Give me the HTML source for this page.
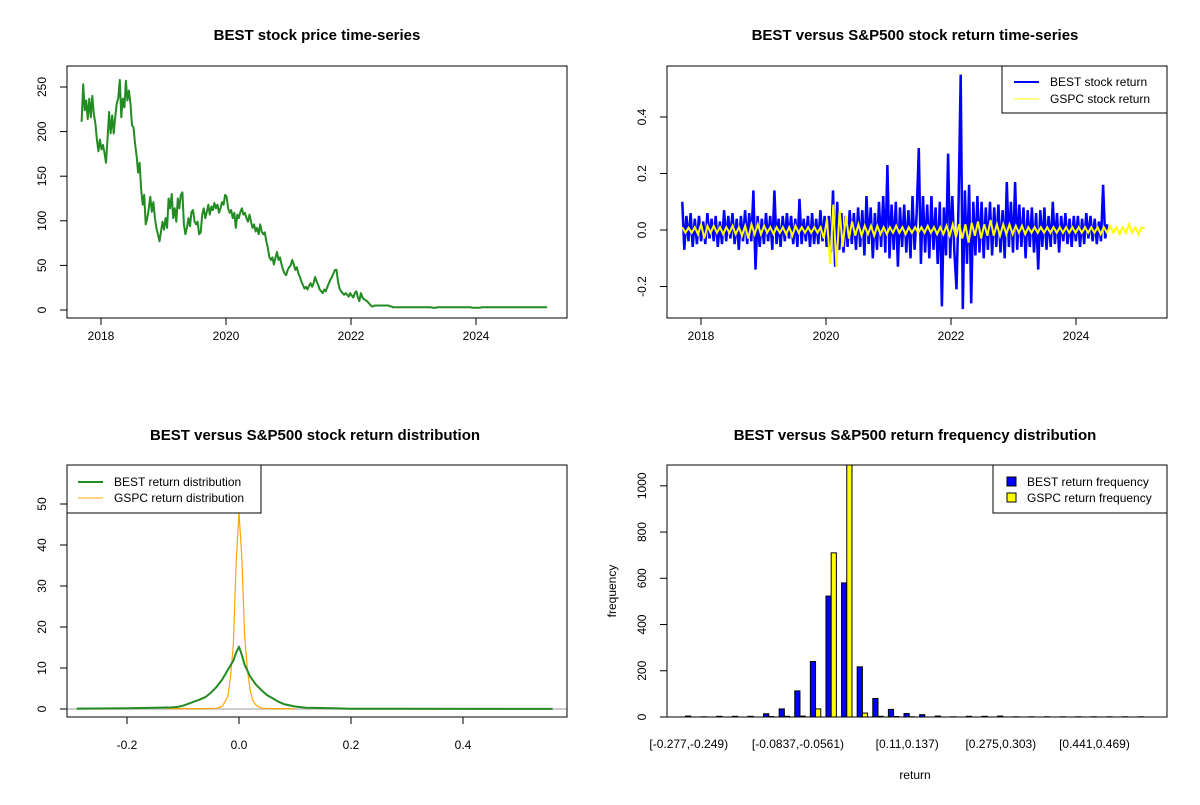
<!DOCTYPE html>
<html><head><meta charset="utf-8"><style>
html,body{margin:0;padding:0;background:#fff;}
svg text{font-family:"Liberation Sans",Arial,sans-serif;fill:#000;}
.t{font-weight:bold;font-size:15px;}
.a{font-size:12px;}
</style></head><body>
<svg id="s" width="1200" height="800" viewBox="0 0 1200 800" xmlns="http://www.w3.org/2000/svg">
<rect x="0" y="0" width="1200" height="800" fill="#fff"/>
</svg>
<script>
// ---------- data ----------
const priceStart = 2017.69;
const priceStep = 0.02442;
const prices = [211,253,224,235,214,237,216,240,220,209,191,178,191,180,185,176,165,193,222,198,218,198,216,231,238,258,216,237,227,257,235,246,231,207,205,187,173,154,165,136,118,129,96,103,114,127,110,121,103,92,85,77,88,99,90,103,92,125,114,130,103,114,99,125,114,129,132,96,85,92,103,94,110,112,99,96,99,85,87,107,114,103,110,118,107,116,112,120,114,118,109,114,121,118,129,127,114,109,112,103,109,92,107,103,110,114,107,109,103,99,107,99,92,96,88,92,85,96,88,85,87,77,70,59,56,59,51,59,65,56,59,51,45,41,39,45,48,50,56,51,45,48,41,37,32,28,24,26,23,27,30,26,30,37,32,28,23,21,19,23,21,26,30,34,37,41,45,45,32,24,21,19,17,19,17,15,19,16,14,19,21,14,10,19,14,12,11,10,8,6,4,4,5,5,5,5,5,5,5,5,5,5,4,4,3,3,3,3,3,3,3,3,3,3,3,3,3,3,3,3,3,3,3,3,3,3,3,3,3,3,2.5,2.5,2.5,3,3,3,3,3,3,3,3,3,3,3,3,3,3,3,3,3,3,3,3,3,3,3,2.5,2.5,2.5,2.5,2.5,2.5,3,3,3,3,3,3,3,3,3,3,3,3,3,3,3,3,3,3,3,3,3,3,3,3,3,3,3,3,3,3,3,3,3,3,3,3,3,3,3,3,3,3,3,3];
const yearTicks = [2018,2020,2022,2024];
const priceTicks = [0,50,100,150,200,250];

const bestStart = 2017.7, bestEnd = 2024.5;
const bestReturns = [0.10,-0.07,0.05,-0.04,0.06,-0.06,0.04,-0.05,0.05,
-0.04,0.03,-0.05,0.06,-0.03,0.04,-0.04,0.05,-0.06,0.03,-0.05,0.07,-0.04,0.05,-0.03,
0.06,-0.05,0.04,-0.07,0.05,-0.04,0.07,-0.05,0.06,-0.04,0.14,-0.14,0.05,-0.06,0.04,
-0.05,0.06,-0.04,0.05,-0.07,0.14,-0.05,0.04,-0.06,0.05,-0.04,0.06,-0.03,0.05,-0.05,
0.04,-0.06,0.11,-0.05,0.04,-0.04,0.05,-0.06,0.06,-0.05,0.04,-0.05,0.07,-0.04,0.05,
-0.06,0.05,-0.08,0.14,-0.13,0.10,-0.07,0.06,-0.08,0.05,-0.06,0.07,-0.05,0.06,-0.07,
0.08,-0.06,0.07,-0.09,0.12,-0.05,0.08,-0.10,0.06,-0.07,0.10,-0.06,0.12,-0.08,0.23,
-0.10,0.09,-0.07,0.10,-0.13,0.08,-0.06,0.09,-0.08,0.07,-0.10,0.12,-0.07,0.06,0.29,
-0.12,0.12,-0.08,0.09,-0.10,0.12,-0.07,0.08,-0.12,0.10,-0.27,0.08,-0.09,0.27,-0.10,
0.12,-0.08,-0.21,0.10,0.55,-0.28,0.14,-0.12,0.16,-0.26,0.10,-0.09,0.12,-0.08,0.10,
-0.10,0.08,-0.07,0.10,-0.09,0.08,-0.06,0.09,-0.08,0.07,-0.10,0.17,-0.06,0.10,-0.08,
0.17,-0.07,0.09,-0.06,0.08,-0.10,0.07,-0.06,0.08,-0.08,0.06,-0.14,0.07,-0.06,0.08,
-0.07,0.05,-0.06,0.10,-0.05,0.06,-0.08,0.05,-0.04,0.06,-0.05,0.04,-0.06,0.05,-0.04,
0.05,-0.06,0.04,-0.05,0.06,-0.03,0.05,-0.04,0.04,-0.05,0.03,-0.04,0.16,-0.03,0.02];
const gspcStart = 2017.7, gspcEnd = 2025.1;
const gspcReturns = [0.01,-0.01,0.008,-0.01,0.01,
-0.015,0.02,-0.03,0.015,-0.01,0.015,-0.01,0.01,-0.015,0.01,-0.01,0.015,-0.015,0.01,-0.02,0.015,-0.03,0.02,-0.015,0.02,
-0.015,0.015,-0.01,0.01,-0.015,0.01,-0.01,0.01,-0.015,0.01,-0.02,0.015,-0.01,0.01,-0.01,0.01,-0.01,0.01,-0.01,0.01,
-0.03,0.04,-0.12,0.09,-0.13,0.07,-0.06,0.05,-0.03,0.03,-0.02,0.02,-0.02,0.015,-0.015,0.015,-0.02,0.015,-0.015,0.01,
-0.015,0.01,-0.01,0.015,-0.01,0.01,-0.015,0.01,-0.01,0.01,-0.01,0.01,-0.01,0.015,-0.01,0.01,-0.015,0.01,-0.015,0.015,
-0.02,0.02,-0.025,0.02,-0.03,0.02,-0.045,0.025,-0.02,0.03,-0.03,0.02,-0.02,0.035,-0.02,0.02,-0.02,0.02,-0.015,0.02,
-0.015,0.015,-0.01,0.015,-0.015,0.01,-0.01,0.01,-0.01,0.01,-0.01,0.01,-0.01,0.01,-0.01,0.01,-0.01,0.01,-0.01,0.01,
-0.01,0.01,-0.01,0.01,-0.01,0.01,-0.01,0.01,-0.015,0.01,-0.01,0.015,-0.01,0.01,-0.015,0.01,-0.01,0.02,-0.01,0.01,
-0.015,0.01,0.005];
const returnTicks = [-0.2,0.0,0.2,0.4];

const bestDensX = [-0.29,-0.2,-0.15,-0.12,-0.11,-0.10,-0.09,-0.08,-0.07,-0.06,-0.05,-0.04,-0.03,-0.02,-0.01,-0.005,0,0.005,0.01,0.02,0.03,0.04,0.05,0.06,0.07,0.08,0.10,0.12,0.17,0.2,0.3,0.56];
const bestDensY = [0.1,0.2,0.3,0.4,0.5,0.8,1.3,1.8,2.3,2.9,4.0,5.4,7.2,9.5,11.8,13.8,15.2,13.2,10.8,7.9,6.0,4.6,3.4,2.6,1.8,1.2,0.6,0.3,0.2,0.05,0.05,0.02];
const gspcDensX = [-0.13,-0.06,-0.04,-0.03,-0.02,-0.015,-0.01,-0.005,0,0.005,0.01,0.015,0.02,0.025,0.03,0.04,0.06,0.09,0.1];
const gspcDensY = [0.1,0.1,0.2,0.6,3,8,16,36,48,37,18,9.5,4.5,2,1,0.2,0.1,0.1,0];
const densXTicks = [-0.2,0.0,0.2,0.4];
const densYTicks = [0,10,20,30,40,50];

const bestFreq = [4,1,3,3,3,14,35,113,240,523,580,217,80,33,15,10,4,1,3,3,4,1,1,1,1,1,1,1,1,1];
const gspcFreq = [0,0,0,0,0,2,3,4,35,710,1090,17,3,2,1,0,0,0,0,0,0,0,0,0,0,0,0,0,0,0];
const binLabels = ["[-0.277,-0.249)","[-0.0837,-0.0561)","[0.11,0.137)","[0.275,0.303)","[0.441,0.469)"];
const binLabelIdx = [0,7,14,20,26];
const freqTicks = [0,200,400,600,800,1000];

// ---------- helpers ----------
const S = document.getElementById('s');
const NS = 'http://www.w3.org/2000/svg';
function mk(tag, attrs, parent){
  const e = document.createElementNS(NS, tag);
  for (const k in attrs) e.setAttribute(k, attrs[k]);
  (parent || S).appendChild(e);
  return e;
}
function txt(str, x, y, cls, anchor, rot, parent){
  const e = mk('text', {x:x, y:y, class:cls, 'text-anchor':anchor||'middle'}, parent);
  if (rot) e.setAttribute('transform', 'rotate(-90 '+x+' '+y+')');
  e.textContent = str;
  return e;
}
function lin(d0,d1,r0,r1){ return v => r0 + (v-d0)*(r1-r0)/(d1-d0); }
function box(x0,y0,x1,y1,name){
  const r = mk('rect',{x:x0,y:y0,width:x1-x0,height:y1-y0,fill:'none',stroke:'#000','stroke-width':1});
  
  
}
function xTicks(vals, sx, yAxis, fmt, labY, grp){
  const g = mk('g',{});
  
  
  const lo = sx(vals[0]), hi = sx(vals[vals.length-1]);
  mk('line',{x1:lo,y1:yAxis,x2:hi,y2:yAxis,stroke:'#000'},g);
  vals.forEach(v=>{
    mk('line',{x1:sx(v),y1:yAxis,x2:sx(v),y2:yAxis+7,stroke:'#000'},g);
    const t = txt(fmt(v), sx(v), labY, 'a', 'middle', false, g);
    
    
  });
}
function yTicks(vals, sy, xAxis, fmt, labX, grp){
  const g = mk('g',{});
  
  
  const lo = sy(vals[0]), hi = sy(vals[vals.length-1]);
  mk('line',{x1:xAxis,y1:lo,x2:xAxis,y2:hi,stroke:'#000'},g);
  vals.forEach(v=>{
    mk('line',{x1:xAxis,y1:sy(v),x2:xAxis-7,y2:sy(v),stroke:'#000'},g);
    const t = txt(fmt(v), labX, sy(v), 'a', 'middle', true, g);
    
    
  });
}
function title(str, x, y){
  const t = txt(str, x, y, 't');
  
  
}
function clip(id,x0,y0,x1,y1){
  const d = mk('clipPath',{id:id});
  mk('rect',{x:x0,y:y0,width:x1-x0,height:y1-y0},d);
}

// ---------- panel 1: price ----------
(function(){
  const L=67,R=567,T=66,B=318;
  const sx = lin(2018,2024,101,476), sy = lin(0,250,310,87);
  title('BEST stock price time-series', 317, 40);
  let d='';
  prices.forEach((p,i)=>{ d += (i?'L':'M')+sx(priceStart+i*priceStep).toFixed(1)+' '+sy(p).toFixed(1); });
  const path = mk('path',{d:d,fill:'none',stroke:'#228B22','stroke-width':2,'stroke-linejoin':'round'});
  
  
  box(L,T,R,B,'price-plot-frame');
  xTicks(yearTicks, sx, B, v=>String(v), 340, 'price-x-axis');
  yTicks(priceTicks, sy, L, v=>String(v), 46, 'price-y-axis');
})();

// ---------- panel 2: returns ----------
(function(){
  const L=667,R=1167,T=66,B=318;
  const sx = lin(2018,2024,701,1076), sy = lin(0,0.4,230,117);
  title('BEST versus S&P500 stock return time-series', 915, 40);
  clip('c2',L,T,R,B);
  function series(arr, t0, t1, color, w, name){
    const st = (t1-t0)/(arr.length-1);
    let d='';
    arr.forEach((v,i)=>{ d += (i?'L':'M')+sx(t0+i*st).toFixed(1)+' '+sy(v).toFixed(1); });
    const p = mk('path',{d:d,fill:'none',stroke:color,'stroke-width':w,'clip-path':'url(#c2)'});
    
    
  }
  series(bestReturns, bestStart, bestEnd, '#0000ff', 2.5, 'best-return-line');
  series(gspcReturns, gspcStart, gspcEnd, '#ffff00', 2, 'gspc-return-line');
  box(L,T,R,B,'return-plot-frame');
  xTicks(yearTicks, sx, B, v=>String(v), 340, 'return-x-axis');
  yTicks(returnTicks, sy, L, v=>v.toFixed(1), 646, 'return-y-axis');
  const lg = mk('g',{});
  
  
  mk('rect',{x:1002,y:66,width:165,height:47,fill:'#fff',stroke:'#000'},lg);
  mk('line',{x1:1014,y1:82,x2:1039,y2:82,stroke:'#0000ff','stroke-width':2},lg);
  mk('line',{x1:1014,y1:99,x2:1039,y2:99,stroke:'#ffff00','stroke-width':1},lg);
  const a=txt('BEST stock return',1050,86,'a','start',false,lg);
  
  
  const b=txt('GSPC stock return',1050,103,'a','start',false,lg);
  
  
})();

// ---------- panel 3: density ----------
(function(){
  const L=67,R=567,T=465,B=717;
  const sx = lin(-0.2,0.2,127,351), sy = lin(0,50,709,504);
  title('BEST versus S&P500 stock return distribution', 315, 440);
  clip('c3',L,T,R,B);
  const h = mk('line',{x1:L,y1:sy(0),x2:R,y2:sy(0),stroke:'#bebebe','stroke-width':1.5});
  
  
  function curve(xs, ys, color, w, name){
    let d='';
    xs.forEach((x,i)=>{ d += (i?'L':'M')+sx(x).toFixed(1)+' '+sy(ys[i]).toFixed(1); });
    const p = mk('path',{d:d,fill:'none',stroke:color,'stroke-width':w,'clip-path':'url(#c3)','stroke-linejoin':'round'});
    
    
  }
  curve(gspcDensX, gspcDensY, '#ffa500', 1.2, 'gspc-density-curve');
  curve(bestDensX, bestDensY, '#228B22', 2, 'best-density-curve');
  box(L,T,R,B,'density-plot-frame');
  xTicks(densXTicks, sx, B, v=>v.toFixed(1), 749, 'density-x-axis');
  yTicks(densYTicks, sy, L, v=>String(v), 46, 'density-y-axis');
  const lg = mk('g',{});
  
  
  mk('rect',{x:67,y:465,width:194,height:48,fill:'#fff',stroke:'#000'},lg);
  mk('line',{x1:78,y1:482,x2:103,y2:482,stroke:'#228B22','stroke-width':2},lg);
  mk('line',{x1:78,y1:498,x2:103,y2:498,stroke:'#ffa500','stroke-width':1},lg);
  const a=txt('BEST return distribution',114,486,'a','start',false,lg);
  
  
  const b=txt('GSPC return distribution',114,502,'a','start',false,lg);
  
  
})();

// ---------- panel 4: histogram ----------
(function(){
  const L=667,R=1167,T=465,B=717;
  const n = bestFreq.length;
  const u0 = 1, u1 = 3*n, pad = 0.04*(u1-u0);
  const sx = lin(u0-pad, u1+pad, L, R);
  const ymax = Math.max(...gspcFreq, ...bestFreq);
  const sy = lin(0, ymax, B, T);
  title('BEST versus S&P500 return frequency distribution', 915, 440);
  clip('c4',L,T,R,B);
  const g = mk('g',{'clip-path':'url(#c4)'});
  for (let i=0;i<n;i++){
    const b = mk('rect',{x:sx(1+3*i),y:sy(bestFreq[i]),width:sx(2)-sx(1),height:Math.max(0,sy(0)-sy(bestFreq[i])),fill:'#0000ff',stroke:'#000','stroke-width':1},g);
    
    
    const y = mk('rect',{x:sx(2+3*i),y:sy(gspcFreq[i]),width:sx(2)-sx(1),height:Math.max(0,sy(0)-sy(gspcFreq[i])),fill:'#ffff00',stroke:'#000','stroke-width':1},g);
    
    
  }
  box(L,T,R,B,'histogram-plot-frame');
  yTicks(freqTicks, sy, L, v=>String(v), 646, 'histogram-y-axis');
  binLabels.forEach((s,k)=>{
    const t = txt(s, sx(2+3*binLabelIdx[k]) - 2, 748, 'a');
    
    
  });
  const xt = txt('return', 915, 779, 'a');
  
  
  const yt = txt('frequency', 616, 591, 'a', 'middle', true);
  
  
  const lg = mk('g',{});
  
  
  mk('rect',{x:993,y:465,width:174,height:48,fill:'#fff',stroke:'#000'},lg);
  mk('rect',{x:1007,y:477,width:9,height:9,fill:'#0000ff',stroke:'#000'},lg);
  mk('rect',{x:1007,y:493,width:9,height:9,fill:'#ffff00',stroke:'#000'},lg);
  const a=txt('BEST return frequency',1027,486,'a','start',false,lg);
  
  
  const b=txt('GSPC return frequency',1027,502,'a','start',false,lg);
  
  
})();
</script>
</body></html>
